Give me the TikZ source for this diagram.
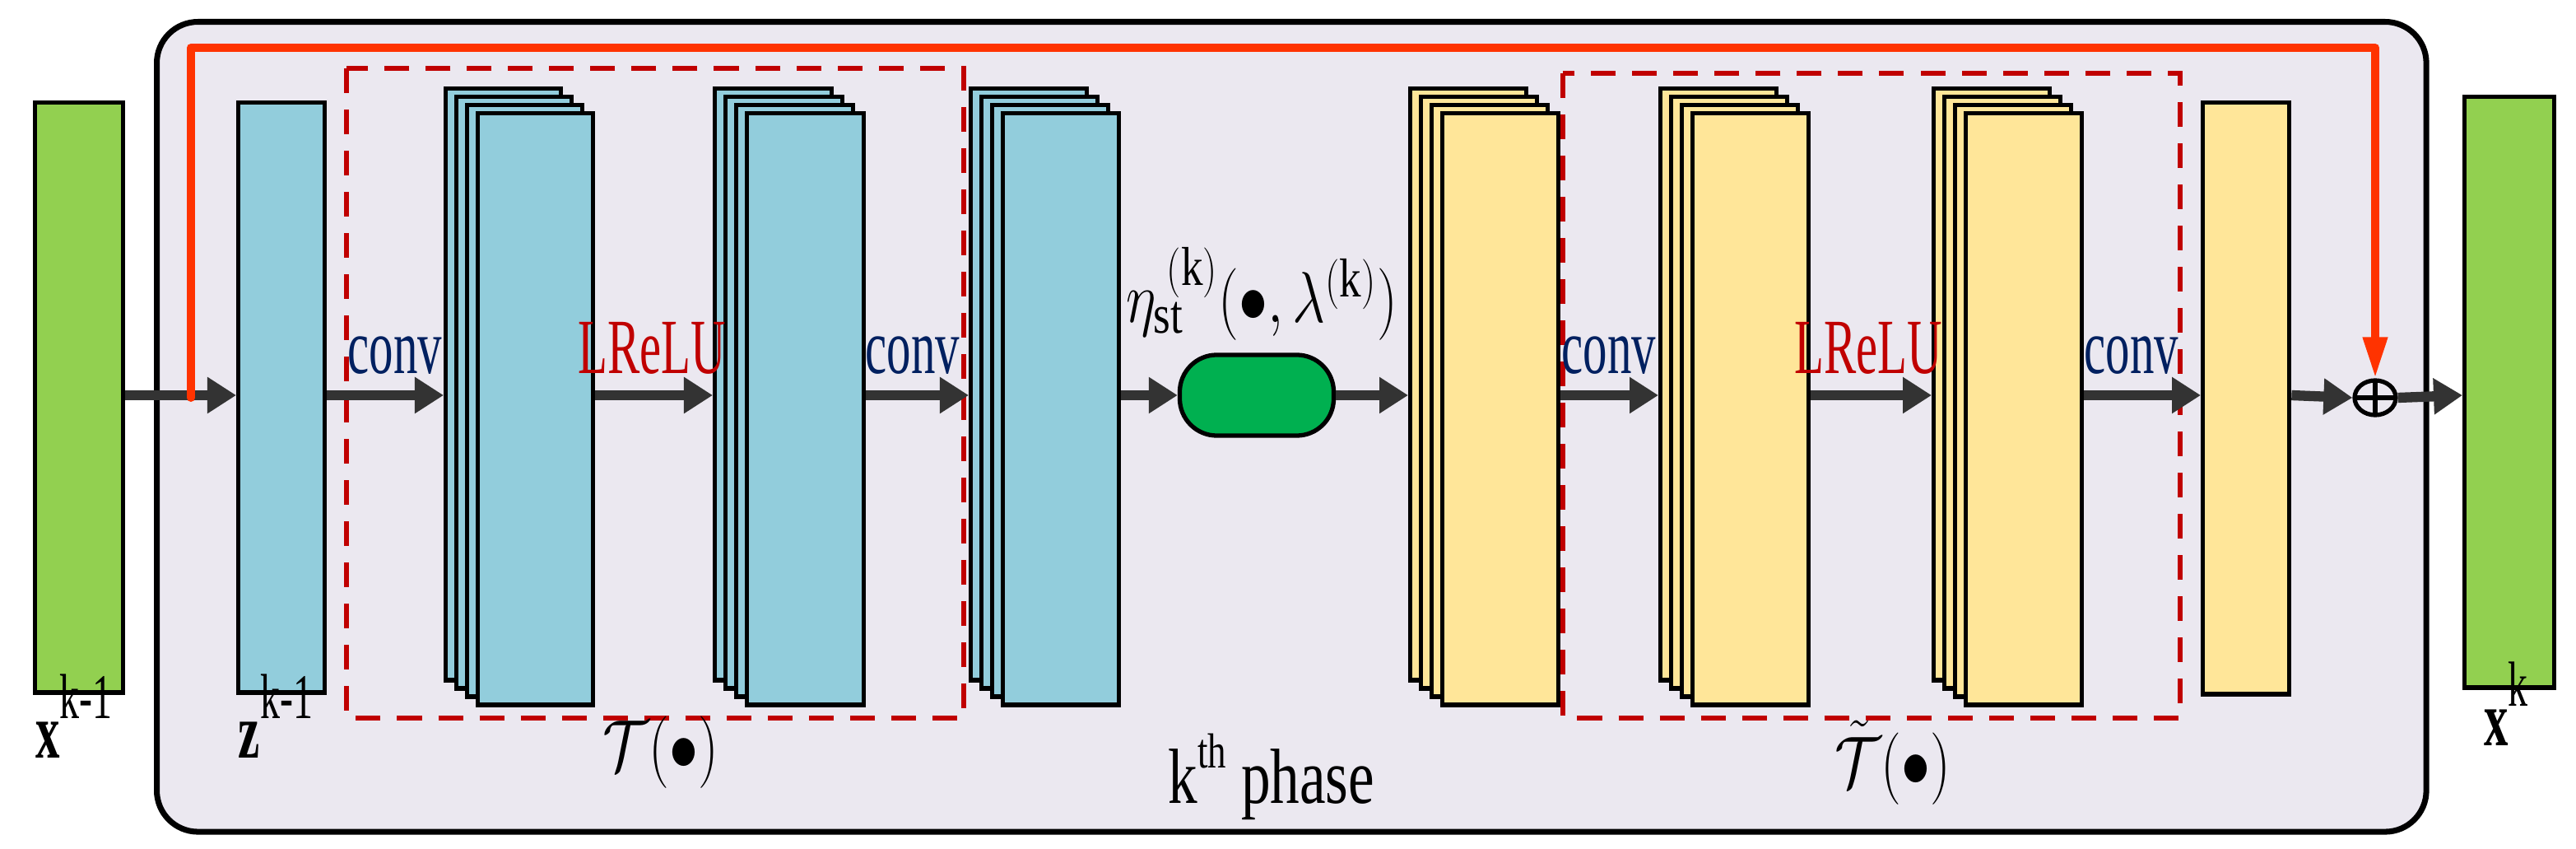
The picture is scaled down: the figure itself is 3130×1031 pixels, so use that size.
\documentclass[tikz,border=0pt]{standalone}
\usepackage{fontspec}
\usepackage{graphicx}
\setmainfont{Liberation Serif}
\usetikzlibrary{arrows.meta,shapes.geometric}
\definecolor{gfill}{RGB}{146,208,80}
\definecolor{bfill}{RGB}{146,205,220}
\definecolor{yfill}{RGB}{255,230,153}
\definecolor{bgc}{RGB}{235,232,240}
\definecolor{redline}{RGB}{255,51,0}
\definecolor{dred}{RGB}{192,0,0}
\definecolor{navy}{RGB}{0,32,96}
\definecolor{pill}{RGB}{0,176,80}
\newcommand\mystk[4]{%
 \foreach \i in {3,2,1} {\node[blk,fill=#4,minimum width=#3,anchor=north west] (#1\i) at (#2-13*\i,135-10*\i) {};}
 \node[blk,fill=#4,minimum width=#3,anchor=north west] (#1) at (#2,135) {};}
\newcommand\nar[1]{\scalebox{0.62}[1]{#1}}
\begin{document}
\begin{tikzpicture}[x=0.01cm,y=-0.01cm,
 blk/.style={draw=black,line width=1.5pt,rectangle,minimum height=7.18cm,inner sep=0pt},
 flow/.style={draw=black!80,line width=3.5pt,-{Triangle[length=0.35cm,width=0.42cm]}},
 lab/.style={font=\fontsize{27}{30}\selectfont,anchor=base,inner sep=0pt},
 dbox/.style={draw=dred,line width=1.6pt,dash pattern=on 0.3cm off 0.2cm}]
\useasboundingbox (0,0) rectangle (3130,1031);
\node[draw=black,line width=2pt,fill=bgc,rounded corners=0.5cm,minimum width=27.56cm,minimum height=9.83cm,anchor=north west] (phase) at (187,23) {};
\coordinate (row) at (0,480);
% dashed boxes
\draw[dbox] (421,83) rectangle (1171,872);
\draw[dbox] (1899,89) rectangle (2649,872);
% blocks
\node[blk,fill=gfill,minimum width=1.07cm,minimum height=7.16cm,anchor=north west] (xin) at (40,122) {};
\node[blk,fill=bfill,minimum width=1.05cm,minimum height=7.16cm,anchor=north west] (z) at (287,122) {};
\mystk{sa}{578}{1.40cm}{bfill}
\mystk{sb}{905}{1.42cm}{bfill}
\mystk{sc}{1216}{1.41cm}{bfill}
\mystk{ya}{1750}{1.41cm}{yfill}
\mystk{yb}{2054}{1.41cm}{yfill}
\mystk{yc}{2386}{1.41cm}{yfill}
\node[blk,fill=yfill,minimum width=1.05cm,minimum height=7.18cm,anchor=north west] (ys) at (2674,122) {};
\node[blk,fill=gfill,minimum width=1.09cm,minimum height=7.17cm,anchor=north west] (xout) at (2992,115) {};
\node[draw=black,line width=1.5pt,fill=pill,rounded corners=0.45cm,minimum width=1.87cm,minimum height=0.98cm] (eta) at (1527,480) {};
\node[draw=black,line width=1.5pt,ellipse,minimum width=0.5cm,minimum height=0.42cm,inner sep=0pt,
 path picture={\draw[line width=1.5pt] (path picture bounding box.north) -- (path picture bounding box.south) (path picture bounding box.west) -- (path picture bounding box.east);}] (plus) at (2886,483) {};
% flows
\coordinate (rs) at (232,483);
\draw[flow] (xin.east|-row) -- (z.west|-row);
\draw[flow] (z.east|-row) -- (sa3.west|-row);
\draw[flow] (sa.east|-row) -- (sb3.west|-row);
\draw[flow] (sb.east|-row) -- (sc3.west|-row);
\draw[flow] (sc.east|-row) -- (eta.west);
\draw[flow] (eta.east) -- (ya3.west|-row);
\draw[flow] (ya.east|-row) -- (yb3.west|-row);
\draw[flow] (yb.east|-row) -- (yc3.west|-row);
\draw[flow] (yc.east|-row) -- (ys.west|-row);
\draw[flow] (ys.east|-row) -- (plus.west);
\draw[flow] (plus.east) -- (xout.west|-row);
% red skip
\coordinate (rc) at (2886,58);
\draw[redline,line width=0.1cm,line cap=round,line join=round,-{Triangle[length=0.5cm,width=0.28cm]}] (rs) |- (rc) -- (plus.north);
% labels
\node[lab,text=navy] (c1) at (480,454) {\nar{conv}};
\node[lab,text=dred] (l1) at (792,454) {\nar{LReLU}};
\node[lab,text=navy] (c2) at (1109,454) {\nar{conv}};
\node[lab,text=navy] (c3) at (1955,454) {\nar{conv}};
\node[lab,text=dred] (l2) at (2270,454) {\nar{LReLU}};
\node[lab,text=navy] (c4) at (2590,454) {\nar{conv}};
\node[lab] (etal) at (1533,392) {\scalebox{0.8}[1]{$\eta_{\mathrm{st}}^{\;\mathrm{(k)}}(\bullet,\lambda^{\mathrm{(k)}})$}};
\node[lab] (xl) at (90,920) {\nar{\textbf{x}\raisebox{0.5em}{\fontsize{22}{24}\selectfont k-1}}};
\node[lab] (zl) at (335,920) {\nar{\textbf{z}\raisebox{0.5em}{\fontsize{22}{24}\selectfont k-1}}};
\node[lab] (xkl) at (3045,905) {\nar{\textbf{x}\raisebox{0.5em}{\fontsize{22}{24}\selectfont k}}};
\node[lab] (tl) at (803,935) {\scalebox{0.8}[1]{$\mathcal{T}(\bullet)$}};
\node[lab] (ttl) at (2300,955) {\scalebox{0.8}[1]{$\tilde{\mathcal{T}}(\bullet)$}};
\node[lab] (ph) at (1545,975) {\scalebox{0.75}[1]{k\raisebox{0.45em}{\fontsize{17}{20}\selectfont th} phase}};
\end{tikzpicture}
\end{document}
